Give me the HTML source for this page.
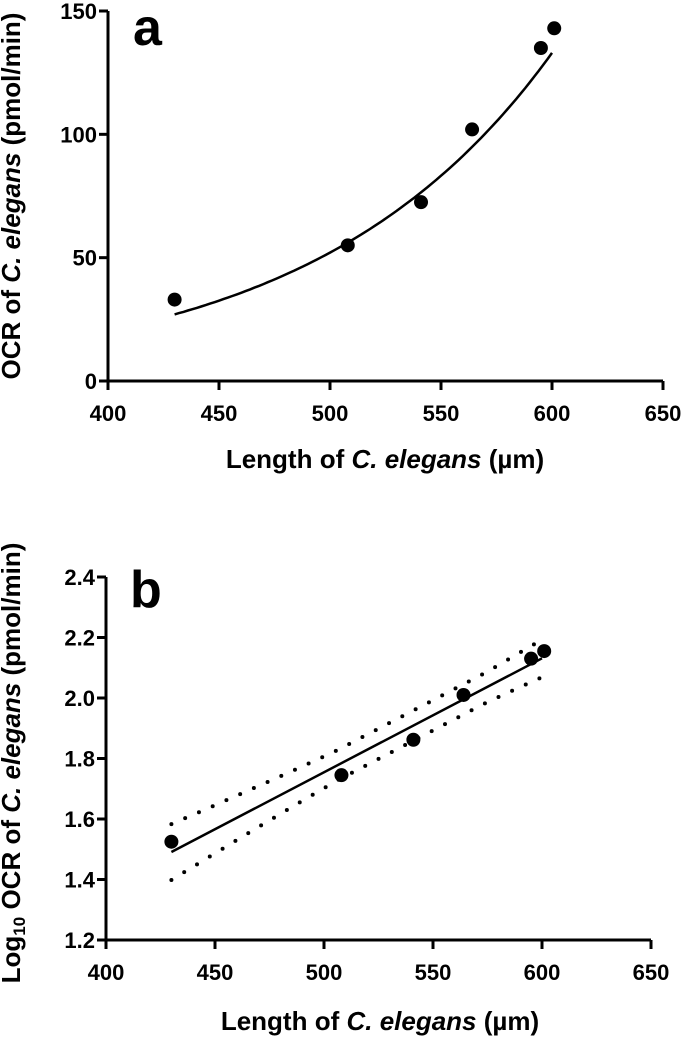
<!DOCTYPE html>
<html><head><meta charset="utf-8">
<style>
html,body{margin:0;padding:0;background:#fff;}
svg{display:block;font-family:"Liberation Sans",Arial,sans-serif;font-weight:bold;}
</style></head>
<body>
<svg id="fig" width="685" height="1037" viewBox="0 0 685 1037" xmlns="http://www.w3.org/2000/svg"></svg>
<script>
// ---- data ----
const lengths = [430, 508, 541, 564, 595, 601];
const ocrValues = [33, 55, 72.5, 102, 135, 143];
const logOcrValues = [1.525, 1.745, 1.862, 2.01, 2.13, 2.155];
const xTicks = [400, 450, 500, 550, 600, 650];
const yTicksA = [0, 50, 100, 150];
const yTicksB = [1.2, 1.4, 1.6, 1.8, 2.0, 2.2, 2.4];
const expFitA = [27, 133]; // fitted OCR at 430 and 600

const NS = "http://www.w3.org/2000/svg";
const svg = document.getElementById('fig');
function el(tag, attrs, parent){ const e=document.createElementNS(NS,tag); for(const k in attrs) e.setAttribute(k,attrs[k]); (parent||svg).appendChild(e); return e; }

function drawPanel(cfg){
  const g = el('g',{});
  
  
  const sx = v => cfg.x0 + (v-400)/(650-400)*(cfg.x1-cfg.x0);
  const sy = v => cfg.y0 - (v-cfg.ymin)/(cfg.ymax-cfg.ymin)*(cfg.y0-cfg.y1);
  const ya = el('line',{x1:cfg.x0,y1:cfg.y0+1.5,x2:cfg.x0,y2:cfg.y1,stroke:'#000','stroke-width':3},g);
   
  const xa = el('line',{x1:cfg.x0-1.5,y1:cfg.y0,x2:cfg.x1,y2:cfg.y0,stroke:'#000','stroke-width':3},g);
   
  xTicks.forEach(v=>{
    const x=sx(v);
    el('line',{x1:x,y1:cfg.y0,x2:x,y2:cfg.y0+9,stroke:'#000','stroke-width':3},g);
    const t=el('text',{x:x,y:cfg.y0+40,'text-anchor':'middle','font-size':22},g);
    t.textContent=v;
     
  });
  cfg.yTicks.forEach(v=>{
    const y=sy(v);
    el('line',{x1:cfg.x0-9,y1:y,x2:cfg.x0,y2:y,stroke:'#000','stroke-width':3},g);
    const tx=cfg.x0-11;
    const t=el('text',{x:tx,y:y+8,'text-anchor':'end','font-size':22},g);
    t.textContent=cfg.fmt(v);
     
  });
  return {g, sx, sy};
}

// ---- Panel a ----
const A = drawPanel({name:'panel-a', x0:108, x1:663, y0:381, y1:11, ymin:0, ymax:150, yTicks:yTicksA, fmt:v=>String(v)});
{
  const k = Math.log(expFitA[1]/expFitA[0])/(600-430);
  let d='';
  for(let x=430;x<=600.01;x+=2){ const y=expFitA[0]*Math.exp(k*(x-430)); d+=(d?'L':'M')+A.sx(x).toFixed(1)+','+A.sy(y).toFixed(1); }
  const p=el('path',{d,fill:'none',stroke:'#000','stroke-width':2.5},A.g);
   
  lengths.forEach((x,i)=>{
    const c=el('circle',{cx:A.sx(x),cy:A.sy(ocrValues[i]),r:7,fill:'#000'},A.g);
     
  });
  const lt=el('text',{x:133,y:45,'font-size':52},A.g); lt.textContent='a';
   
  const xl=el('text',{x:385,y:468,'text-anchor':'middle','font-size':26},A.g);
  xl.innerHTML='Length of <tspan font-style="italic">C. elegans</tspan>  (µm)';
   
  const yl=el('text',{x:0,y:0,'text-anchor':'middle','font-size':26,transform:'translate(20,196) rotate(-90)'},A.g);
  yl.innerHTML='OCR of <tspan font-style="italic">C. elegans</tspan>  (pmol/min)';
   
}

// ---- Panel b ----
const B = drawPanel({name:'panel-b', x0:106, x1:651, y0:940, y1:577, ymin:1.2, ymax:2.4, yTicks:yTicksB, fmt:v=>v.toFixed(1)});
{
  const n=lengths.length;
  const mx=lengths.reduce((a,b)=>a+b,0)/n, my=logOcrValues.reduce((a,b)=>a+b,0)/n;
  let sxx=0,sxy=0; lengths.forEach((x,i)=>{sxx+=(x-mx)**2; sxy+=(x-mx)*(logOcrValues[i]-my);});
  const slope=sxy/sxx, icpt=my-slope*mx;
  let sse=0; lengths.forEach((x,i)=>{sse+=(logOcrValues[i]-(icpt+slope*x))**2;});
  const s=Math.sqrt(sse/(n-2)), t=2.776;
  const xa=430, xb=600;
  const ln=el('line',{x1:B.sx(xa),y1:B.sy(icpt+slope*xa),x2:B.sx(xb),y2:B.sy(icpt+slope*xb),stroke:'#000','stroke-width':2.5},B.g);
   
  const half=x=>Math.max(t*s*Math.sqrt(1/n+(x-mx)**2/sxx), 0.05);
  ['upper','lower'].forEach(side=>{
    let d='';
    for(let x=xa;x<=xb+0.01;x+=2){ const y=icpt+slope*x+(side==='upper'?1:-1)*half(x); d+=(d?'L':'M')+B.sx(x).toFixed(1)+','+B.sy(y).toFixed(1); }
    const p=el('path',{d,fill:'none',stroke:'#000','stroke-width':4,'stroke-dasharray':'0 15','stroke-linecap':'round'},B.g);
     
  });
  lengths.forEach((x,i)=>{
    const c=el('circle',{cx:B.sx(x),cy:B.sy(logOcrValues[i]),r:7,fill:'#000'},B.g);
     
  });
  const lt=el('text',{x:130,y:607,'font-size':52},B.g); lt.textContent='b';
   
  const xl=el('text',{x:380,y:1030,'text-anchor':'middle','font-size':26},B.g);
  xl.innerHTML='Length of <tspan font-style="italic">C. elegans</tspan>  (µm)';
   
  const yl=el('text',{x:0,y:0,'text-anchor':'middle','font-size':26,transform:'translate(20,763) rotate(-90)'},B.g);
  yl.innerHTML='Log<tspan font-size="17" dy="5">10</tspan><tspan dy="-5"> OCR of </tspan><tspan font-style="italic">C. elegans</tspan>  (pmol/min)';
   
}
</script>
</body></html>
